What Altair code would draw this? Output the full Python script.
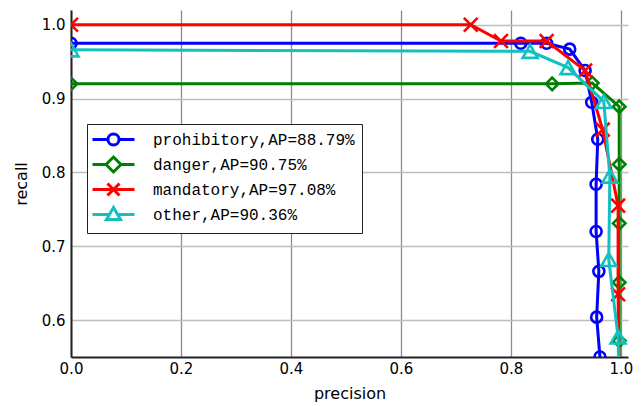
import altair as alt
import pandas as pd

series_names = ["prohibitory,AP=88.79%", "danger,AP=90.75%", "mandatory,AP=97.08%", "other,AP=90.36%"]
colors = ["#0000ff", "#008000", "#ff0000", "#13bfbf"]

prohibitory_p = [0.0, 0.818, 0.865, 0.907, 0.935, 0.947, 0.958, 0.955, 0.955, 0.960, 0.956, 0.962]
prohibitory_r = [0.975, 0.975, 0.975, 0.967, 0.938, 0.895, 0.845, 0.784, 0.720, 0.666, 0.604, 0.550]

danger_p = [0.0, 0.875, 0.948, 0.997, 0.997, 0.997, 0.997, 0.997, 0.997]
danger_r = [0.920, 0.920, 0.921, 0.889, 0.811, 0.731, 0.651, 0.572, 0.50]

mandatory_p = [0.0, 0.727, 0.782, 0.865, 0.935, 0.967, 0.995, 0.995, 0.997]
mandatory_r = [1.0, 1.0, 0.978, 0.978, 0.938, 0.858, 0.755, 0.635, 0.50]

other_p = [0.0, 0.835, 0.904, 0.969, 0.980, 0.978, 0.995, 0.997]
other_r = [0.966, 0.964, 0.942, 0.896, 0.795, 0.682, 0.577, 0.50]

x_ticks = [0.0, 0.2, 0.4, 0.6, 0.8, 1.0]
y_ticks = [0.6, 0.7, 0.8, 0.9, 1.0]

rows = []
for name, ps, rs in zip(series_names,
                        [prohibitory_p, danger_p, mandatory_p, other_p],
                        [prohibitory_r, danger_r, mandatory_r, other_r]):
    for i, (p, r) in enumerate(zip(ps, rs)):
        rows.append({"series": name, "precision": p, "recall": r, "idx": i})
df = pd.DataFrame(rows)

marker_shapes = ["circle", "diamond", "M-1,-1L1,1M-1,1L1,-1", "triangle-up"]
marker_sizes = [121, 225, 144, 190]

legend_paths = [
    "M-3,0L-0.79,0M0.79,0L3,0M-0.79,0A0.79,0.79 0 1,0 0.79,0A0.79,0.79 0 1,0 -0.79,0Z",
    "M-3,0L-1.07,0M1.07,0L3,0M-1.07,0L0,-1.07L1.07,0L0,1.07Z",
    "M-3,0L3,0M-0.86,-0.86L0.86,0.86M-0.86,0.86L0.86,-0.86",
    "M-3,0L-0.58,0M0.58,0L3,0M0,-1L-1,0.72L1,0.72Z",
]

xscale = alt.Scale(domain=[0, 1.013], nice=False, zero=False)
yscale = alt.Scale(domain=[0.55, 1.02], nice=False, zero=False)

x_enc = alt.X("precision:Q", scale=xscale,
              axis=alt.Axis(values=x_ticks, format=".1f", title="precision",
                            gridColor="#8c8c8c", gridWidth=1.3, labelFlush=False,
                            labelPadding=4, titlePadding=9))
y_enc = alt.Y("recall:Q", scale=yscale,
              axis=alt.Axis(values=y_ticks, format=".1f", title="recall",
                            gridColor="#bdbdbd", gridWidth=1.3, labelFlush=False,
                            labelPadding=6, titlePadding=12))

color_plot = alt.Color("series:N", scale=alt.Scale(domain=series_names, range=colors), legend=None)
order_series = alt.Order("idx:Q")

base_layers = []
for name in series_names:
    sub = df[df.series == name]
    base_layers.append(
        alt.Chart(sub).mark_line(strokeWidth=3, clip=True).encode(
            x=x_enc, y=y_enc, color=color_plot, order=order_series)
    )
    base_layers.append(
        alt.Chart(sub).mark_point(filled=False, strokeWidth=2.6, clip=True, opacity=1).encode(
            x=x_enc, y=y_enc, color=color_plot,
            shape=alt.Shape("series:N", scale=alt.Scale(domain=series_names, range=marker_shapes), legend=None),
            size=alt.Size("series:N", scale=alt.Scale(domain=series_names, range=marker_sizes), legend=None),
        )
    )

legend_props = dict(title=None, orient="none", legendX=16, legendY=114,
                    symbolSize=196, symbolStrokeWidth=3, symbolOffset=11,
                    labelFont="Liberation Mono", labelFontSize=16,
                    labelColor="black", labelLimit=400, labelOffset=31,
                    rowPadding=-1, padding=7,
                    strokeColor="#222222", fillColor="white")

legend_layer = alt.Chart(df).mark_point(filled=False, opacity=0).encode(
    x=x_enc, y=y_enc,
    color=alt.Color("series:N", scale=alt.Scale(domain=series_names, range=colors),
                    legend=alt.Legend(**legend_props)),
    shape=alt.Shape("series:N", scale=alt.Scale(domain=series_names, range=legend_paths),
                    legend=alt.Legend(**legend_props)),
)

chart = alt.layer(*base_layers, legend_layer).resolve_scale(
    color="independent", shape="independent", size="independent"
).properties(
    width=557, height=347,
    autosize=alt.AutoSizeParams(type="none"),
    padding={"left": 71, "top": 10, "right": 13, "bottom": 49},
    background="white",
).configure_view(stroke=None).configure_axis(
    labelFont="DejaVu Sans", labelFontSize=15, labelColor="black",
    titleFont="DejaVu Sans", titleFontSize=16, titleFontWeight="normal", titleColor="black",
    domainColor="#222222", domainWidth=2, ticks=False,
)

chart.save("out.html", embed_options={"renderer": "svg", "actions": False})
